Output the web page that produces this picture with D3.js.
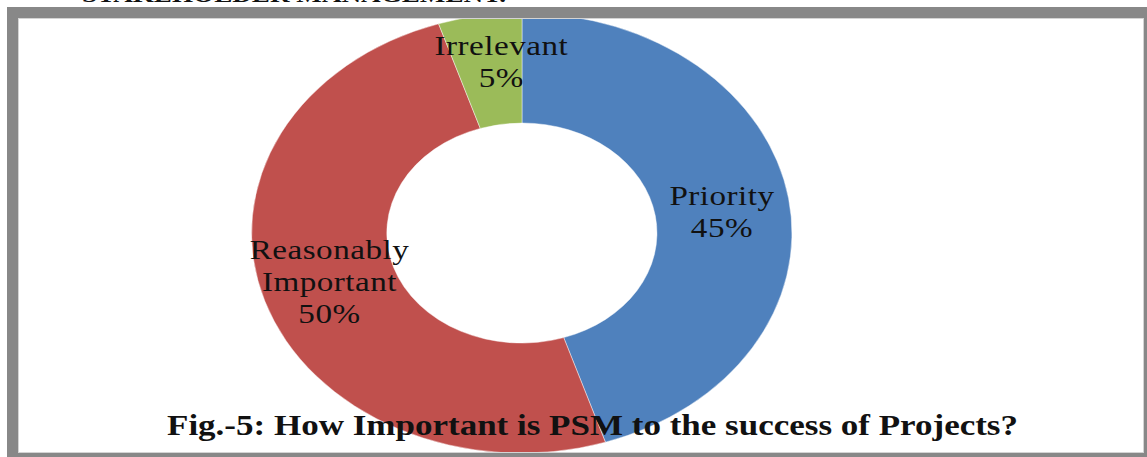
<!DOCTYPE html>
<html>
<head>
<meta charset="utf-8">
<script src="https://cdn.jsdelivr.net/npm/d3@7/dist/d3.min.js"></script>
<style>
  html, body { margin: 0; padding: 0; background: #fff; }
  svg { display: block; }
</style>
</head>
<body>
<svg id="chart" width="1147" height="457"></svg>
<script>
// Survey answers: how important is PSM to project success
const categories = ["Priority", "Reasonably Important", "Irrelevant"];
const percents = [45, 50, 5];
const labelLines = [["Priority"], ["Reasonably", "Important"], ["Irrelevant"]];
const colors = ["#4F81BD", "#C0504D", "#9BBB59"];
const caption = "Fig.-5: How Important is PSM to the success of Projects?";
const heading = "STAKEHOLDER MANAGEMENT.";

const W = 1147, H = 457;
const svg = d3.select("#chart");

// Section heading sitting above the frame (mostly cut off at the top edge)
svg.append("text")
  .attr("x", 82).attr("y", 2)
  .attr("textLength", 424).attr("lengthAdjust", "spacingAndGlyphs")
  .style("font-family", "'Liberation Serif', serif")
  .style("font-weight", "bold")
  .style("font-size", "22px")
  .attr("fill", "#111")
  .text(heading);

// Donut: the figure is stretched horizontally, so the ring is drawn as a circle
// inside a group scaled on x.
const cx = 522, cy = 233, R = 220, sx = 1.227;
const pie = d3.pie().sort(null).startAngle(0).endAngle(2 * Math.PI).value(d => d.value);
const arcs = pie(categories.map((c, i) => ({ name: c, value: percents[i], idx: i })));
const arc = d3.arc().innerRadius(R * 0.5).outerRadius(R);
const labelArc = d3.arc().innerRadius(R * 0.5).outerRadius(R);

const g = svg.append("g").attr("transform", `translate(${cx},${cy}) scale(${sx},1)`);
g.selectAll("path.slice")
  .data(arcs)
  .join("path")
  .attr("class", "slice")
  .attr("d", arc)
  .attr("fill", d => colors[d.data.idx])
  .attr("stroke", "#fff")
  .attr("stroke-width", 0.4);

// Data labels: category name(s) and percentage, centred on each slice
const lineH = 32;
// small per-label nudges; the thin slice label is kept clear of the frame
const nudge = [[0, 5], [0, -2], [11, -8]];
const lbl = g.selectAll("g.lbl")
  .data(arcs)
  .join("g")
  .attr("class", "lbl")
  .attr("transform", d => {
    const [x, y] = labelArc.centroid(d);
    const n = nudge[d.data.idx];
    return `translate(${x + n[0] / sx},${y + n[1]})`;
  });

lbl.each(function(d) {
  const lines = labelLines[d.data.idx].concat([d.data.value + "%"]);
  const t = d3.select(this).append("text")
    .attr("text-anchor", "middle")
    .style("font-family", "'Liberation Serif', 'Times New Roman', serif")
    .style("font-size", "27px")
    .style("letter-spacing", "0.4px")
    .attr("fill", "#111");
  const top = -(lines.length - 1) * lineH / 2 + 9;
  lines.forEach((s, i) => {
    t.append("tspan").attr("x", 0).attr("y", top + i * lineH).text(s);
  });
});

// Caption inside the frame
svg.append("text")
  .attr("x", 167).attr("y", 435)
  .attr("textLength", 851).attr("lengthAdjust", "spacingAndGlyphs")
  .style("font-family", "'Liberation Serif', serif")
  .style("font-weight", "bold")
  .style("font-size", "29px")
  .attr("fill", "#111")
  .text(caption);

// Grey frame around the figure
svg.append("rect")
  .attr("x", 12.5).attr("y", 12.5)
  .attr("width", 1137).attr("height", 446)
  .attr("fill", "none")
  .attr("stroke", "#888")
  .attr("stroke-width", 11);
svg.append("rect")
  .attr("x", 18.5).attr("y", 18.5)
  .attr("width", 1125).attr("height", 434)
  .attr("fill", "none")
  .attr("stroke", "#d4d4d4")
  .attr("stroke-width", 1);
</script>
</body>
</html>
